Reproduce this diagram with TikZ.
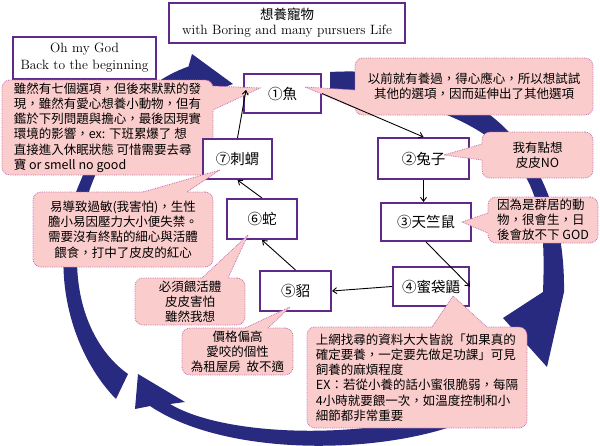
\documentclass[tikz,border=0pt]{standalone}
\usepackage{fontspec}
\newfontfamily\cjk{Noto Sans CJK TC}
\usetikzlibrary{arrows.meta,calc}
\definecolor{qpurple}{RGB}{96,42,140}
\definecolor{qpink}{RGB}{251,204,204}
\definecolor{qedge}{RGB}{196,110,180}
\definecolor{qnavy}{RGB}{40,42,128}

\tikzset{
  petbox/.style={draw=qpurple, line width=2pt, fill=white, inner sep=0pt, font=\cjk\fontsize{14.5}{17}\selectfont},
  titlebox/.style={draw=qpurple, line width=2pt, fill=white, inner sep=0pt, align=center},
  bubble/.style={fill=qpink, draw=qedge, densely dotted, line width=0.8pt, rounded corners=8pt, inner sep=0pt, font=\cjk\fontsize{12.5}{15.2}\selectfont},
  bubbleedge/.style={draw=qedge, densely dotted, line width=0.8pt},
  flow/.style={-{Straight Barb[length=4pt,width=6pt]}, line width=0.9pt},
  bigarrow/.style={fill=qnavy},
}

% tail of a comment bubble: base point, tip, base point, shift into the bubble
\newcommand\bubbletail[4]{%
  \fill[qpink] ($(#1)+(#4)$) -- (#1) -- (#2) -- (#3) -- ($(#3)+(#4)$) -- cycle;
  \draw[bubbleedge] (#1) -- (#2) -- (#3);}

\begin{document}
\begin{tikzpicture}[x=1pt,y=-1pt]
\useasboundingbox (0,0) rectangle (600,445);

% big arrows round the cycle
\fill[bigarrow] (116,399) .. controls (70,352) and (44,262) .. (81,180)
  .. controls (96,140) and (135,85) .. (188.5,66.5) -- (192,54) -- (233,84) -- (178,104) -- (183,86.5)
  .. controls (140,100) and (108,140) .. (91,186)
  .. controls (62,262) and (80,340) .. (128,374) -- cycle;
\fill[bigarrow] (330,72) .. controls (472,64) and (566,146) .. (564,292) -- (547,367) -- (503,318) -- (543,292)
  .. controls (545,240) and (542,215) .. (532,190)
  .. controls (515,145) and (450,95) .. (330,95) -- cycle;
\fill[bigarrow] (480,415) .. controls (400,455) and (230,460) .. (150,406) -- (135,409) -- (138,374) -- (185,402) -- (170,404)
  .. controls (230,440) and (390,440) .. (470,402) -- cycle;

% titles
\node[titlebox, minimum width=236pt, minimum height=40pt, font=\fontsize{13.5}{15}\selectfont] (title) at (287,23)
  {{\cjk 想養寵物}\\with Boring and many pursuers Life};
\node[titlebox, minimum width=143pt, minimum height=42pt, font=\fontsize{13.5}{17}\selectfont] (restart) at (84.5,58)
  {Oh my God\\Back to the beginning};

% the pets
\node[petbox, minimum width=77pt, minimum height=39pt] (n1) at (282.5,93.5) {①魚};
\node[petbox, minimum width=91pt, minimum height=41pt] (n2) at (423.5,158.5) {②兔子};
\node[petbox, minimum width=90pt, minimum height=38pt] (n3) at (426,222) {③天竺鼠};
\node[petbox, minimum width=76pt, minimum height=39pt] (n4) at (431,286.5) {④蜜袋鼯};
\node[petbox, minimum width=71pt, minimum height=40pt] (n5) at (295.5,291) {⑤貂};
\node[petbox, minimum width=70pt, minimum height=40pt] (n6) at (262,219) {⑥蛇};

\node[bubble, minimum width=211pt, minimum height=95pt, align=left] (c7) at (107.5,127.5)
  {雖然有七個選項，但後來默默的發\\現，雖然有愛心想養小動物，但有\\鑑於下列問題與擔心，最後因現實\\環境的影響，ex: 下班累爆了 想\\直接進入休眠狀態 可惜需要去尋\\寶 or smell no good};
\bubbletail{213,86}{260,88}{213,110}{-2,0}

\node[petbox, minimum width=69pt, minimum height=40pt] (n7) at (237.5,159) {⑦刺蝟};

% comments
\node[bubble, minimum width=238pt, minimum height=57pt, align=center] (c1) at (474,86.5)
  {以前就有養過，得心應心，所以想試試\\其他的選項，因而延伸出了其他選項};
\bubbletail{355,90}{305,87}{355,108}{2,0}
\node[bubble, minimum width=111pt, minimum height=46pt, align=center] (c2) at (537.5,155)
  {我有點想\\皮皮NO};
\bubbletail{482,144}{444,155}{482,160}{2,0}
\node[bubble, minimum width=110pt, minimum height=46pt, align=left] (c3) at (543,220)
  {因為是群居的動\\物，很會生，日\\後會放不下 GOD};
\bubbletail{488,213}{462,222}{488,233}{2,0}
\node[bubble, minimum width=220pt, minimum height=101pt, align=left] (c4) at (417,377.5)
  {上網找尋的資料大大皆說「如果真的\\確定要養，一定要先做足功課」可見\\飼養的麻煩程度\\EX：若從小養的話小蜜很脆弱，每隔\\4小時就要餵一次，如溫度控制和小\\細節都非常重要};
\bubbletail{432,327}{453,296}{487,327}{0,2}
\node[bubble, minimum width=111pt, minimum height=47pt, align=center] (c5) at (237.5,351.5)
  {價格偏高\\愛咬的個性\\為租屋房\ \ 故不適};
\bubbletail{245,328}{290,307}{268,328}{0,2}
\node[bubble, minimum width=110pt, minimum height=47pt, align=center] (c6) at (190,301.5)
  {必須餵活體\\皮皮害怕\\雖然我想};
\bubbletail{202,278}{248,235}{228,278}{0,2}
\node[bubble, minimum width=180pt, minimum height=75pt, align=center] (c8) at (123,229.5)
  {易導致過敏(我害怕)，生性\\膽小易因壓力大小便失禁。\\需要沒有終點的細心與活體\\餵食，打中了皮皮的紅心};
\bubbletail{143,192}{220,170}{187,192}{0,2}

% the order of the pets
\draw[flow] (n1.east) -- (n2.north);
\draw[flow] (n2.south) -- (n2.south |- n3.north);
\draw[flow] (n3.south) -- (n4.east);
\draw[flow] (n4.west) -- (n5.east);
\draw[flow] (n5.north) -- (n6.south);
\draw[flow] (n6.north) -- (n7.south);
\draw[flow] (n7.north) -- ([shift={(3,-3.5)}]n1.west);

\end{tikzpicture}
\end{document}
